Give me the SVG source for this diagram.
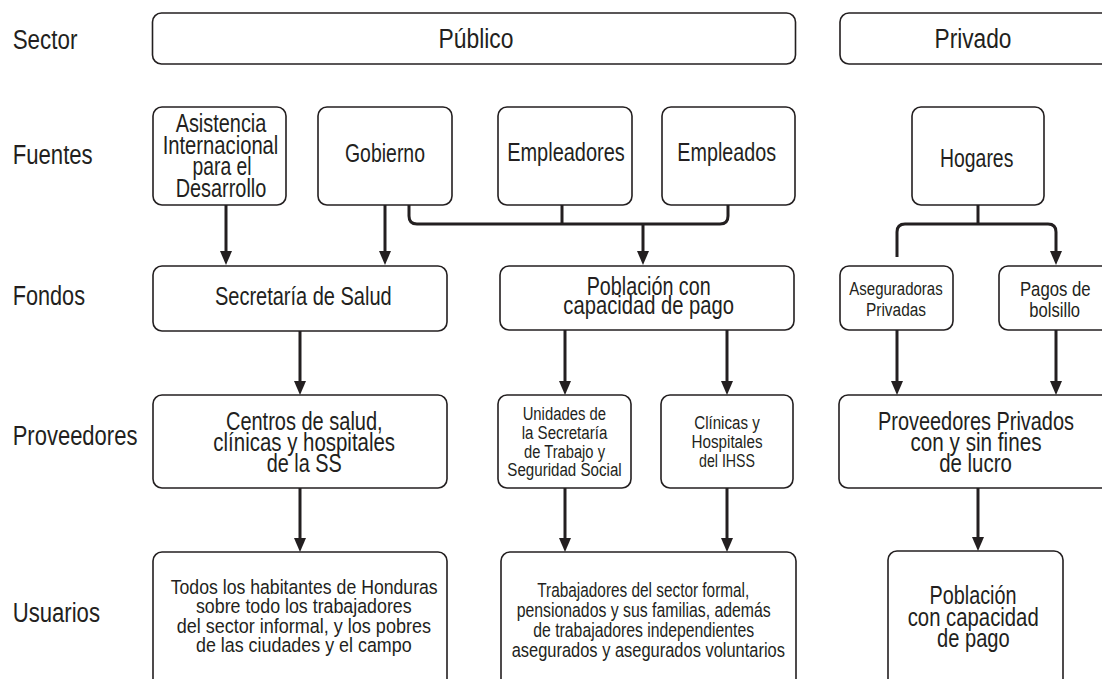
<svg xmlns="http://www.w3.org/2000/svg" width="1102" height="679" viewBox="0 0 1102 679">
<defs>
<marker id="ah" markerUnits="userSpaceOnUse" markerWidth="14" markerHeight="12" refX="6" refY="6" orient="auto"><path d="M0,0 L14,6 L0,12 Z" fill="#231f20"/></marker>
</defs>
<style>
.box{fill:#fff;stroke:#231f20;stroke-width:1.6}
.t{font-family:"Liberation Sans Narrow","Liberation Sans",Arial,sans-serif;fill:#231f20;text-anchor:middle}
.lab{font-family:"Liberation Sans Narrow","Liberation Sans",Arial,sans-serif;font-size:27px;fill:#231f20}
.s26{font-size:27px}.s24{font-size:25px}.s20{font-size:20.5px}.s18{font-size:18px}
.c{fill:none;stroke:#231f20;stroke-width:3}
.a{marker-end:url(#ah)}
</style>
<rect width="1102" height="679" fill="#fff"/>
<g id="row-labels">
<text class="lab" x="12.7" y="49.3" textLength="64.7" lengthAdjust="spacingAndGlyphs">Sector</text>
<text class="lab" x="12.7" y="164" textLength="80" lengthAdjust="spacingAndGlyphs">Fuentes</text>
<text class="lab" x="12.7" y="305" textLength="72.3" lengthAdjust="spacingAndGlyphs">Fondos</text>
<text class="lab" x="12.7" y="445" textLength="124.7" lengthAdjust="spacingAndGlyphs">Proveedores</text>
<text class="lab" x="12.7" y="621.7" textLength="87.3" lengthAdjust="spacingAndGlyphs">Usuarios</text>
</g>
<g id="connectors">
<path class="c a" d="M226,205 V257"/>
<path class="c a" d="M385,205 V257"/>
<path class="c" d="M409,205 V216 Q409,224 417,224 H720 Q728,224 728,216 V205"/>
<path class="c" d="M562,205 V224"/>
<path class="c a" d="M643,224 V257"/>
<path class="c" d="M978,205 V224"/>
<path class="c a" d="M897,257 V232 Q897,224 905,224 H1048 Q1056,224 1056,232 V257"/>
<path class="c a" d="M300,331 V387"/>
<path class="c a" d="M300,488 V544"/>
<path class="c a" d="M565,330 V387"/>
<path class="c a" d="M727,330 V387"/>
<path class="c a" d="M565,488 V544"/>
<path class="c a" d="M727,488 V544"/>
<path class="c a" d="M897,330 V387"/>
<path class="c a" d="M1056,330 V387"/>
<path class="c a" d="M978,488 V543"/>
</g>
<g id="publico"><rect class="box" x="152.5" y="13" width="643" height="51" rx="9"/>
<text class="t s26" x="476" y="48" textLength="75" lengthAdjust="spacingAndGlyphs">Público</text></g>
<g id="privado"><rect class="box" x="840" y="13" width="280" height="51" rx="9"/>
<text class="t s26" x="973" y="48" textLength="77" lengthAdjust="spacingAndGlyphs">Privado</text></g>
<g id="asistencia"><rect class="box" x="153" y="107" width="133" height="98" rx="9"/>
<text class="t s24" x="221" y="132.3" textLength="90.7" lengthAdjust="spacingAndGlyphs">Asistencia</text>
<text class="t s24" x="220.5" y="153.5" textLength="115.7" lengthAdjust="spacingAndGlyphs">Internacional</text>
<text class="t s24" x="222" y="175" textLength="59" lengthAdjust="spacingAndGlyphs">para el</text>
<text class="t s24" x="221" y="196.5" textLength="90.7" lengthAdjust="spacingAndGlyphs">Desarrollo</text></g>
<g id="gobierno"><rect class="box" x="318" y="107" width="134" height="98" rx="9"/>
<text class="t s24" x="385" y="161.7" textLength="80" lengthAdjust="spacingAndGlyphs">Gobierno</text></g>
<g id="empleadores"><rect class="box" x="498" y="107" width="134" height="98" rx="9"/>
<text class="t s24" x="566" y="160.7" textLength="117.7" lengthAdjust="spacingAndGlyphs">Empleadores</text></g>
<g id="empleados"><rect class="box" x="662" y="107" width="133" height="98" rx="9"/>
<text class="t s24" x="726.7" y="160.7" textLength="98.7" lengthAdjust="spacingAndGlyphs">Empleados</text></g>
<g id="hogares"><rect class="box" x="912" y="107" width="132" height="98" rx="9"/>
<text class="t s24" x="976.7" y="166.7" textLength="73.3" lengthAdjust="spacingAndGlyphs">Hogares</text></g>
<g id="secretaria"><rect class="box" x="153" y="266" width="294" height="65" rx="9"/>
<text class="t s24" x="303.3" y="305" textLength="176.7" lengthAdjust="spacingAndGlyphs">Secretaría de Salud</text></g>
<g id="poblacion-pago"><rect class="box" x="500" y="266" width="294" height="64" rx="9"/>
<text class="t s24" x="648.7" y="295" textLength="124" lengthAdjust="spacingAndGlyphs">Población con</text>
<text class="t s24" x="648.7" y="313.5" textLength="170.7" lengthAdjust="spacingAndGlyphs">capacidad de pago</text></g>
<g id="aseguradoras"><rect class="box" x="840" y="266" width="113" height="64" rx="9"/>
<text class="t s18" x="896" y="295" textLength="93.3" lengthAdjust="spacingAndGlyphs">Aseguradoras</text>
<text class="t s18" x="896" y="316" textLength="60" lengthAdjust="spacingAndGlyphs">Privadas</text></g>
<g id="pagos"><rect class="box" x="999" y="266" width="120" height="64" rx="9"/>
<text class="t s20" x="1055.3" y="296" textLength="70.7" lengthAdjust="spacingAndGlyphs">Pagos de</text>
<text class="t s20" x="1054.7" y="316.7" textLength="50.7" lengthAdjust="spacingAndGlyphs">bolsillo</text></g>
<g id="centros"><rect class="box" x="153" y="395" width="294" height="93" rx="9"/>
<text class="t s24" x="304.3" y="430" textLength="156.7" lengthAdjust="spacingAndGlyphs">Centros de salud,</text>
<text class="t s24" x="304.2" y="451" textLength="181.7" lengthAdjust="spacingAndGlyphs">clínicas y hospitales</text>
<text class="t s24" x="304.2" y="472" textLength="75" lengthAdjust="spacingAndGlyphs">de la SS</text></g>
<g id="unidades"><rect class="box" x="498" y="395" width="133" height="93" rx="9"/>
<text class="t s18" x="564.3" y="420" textLength="83.3" lengthAdjust="spacingAndGlyphs">Unidades de</text>
<text class="t s18" x="564.5" y="439" textLength="85.7" lengthAdjust="spacingAndGlyphs">la Secretaría</text>
<text class="t s18" x="564.5" y="457.5" textLength="81" lengthAdjust="spacingAndGlyphs">de Trabajo y</text>
<text class="t s18" x="564.5" y="476" textLength="114.3" lengthAdjust="spacingAndGlyphs">Seguridad Social</text></g>
<g id="clinicas"><rect class="box" x="661" y="395" width="132" height="93" rx="9"/>
<text class="t s18" x="727" y="429.3" textLength="65.5" lengthAdjust="spacingAndGlyphs">Clínicas y</text>
<text class="t s18" x="727" y="448" textLength="71" lengthAdjust="spacingAndGlyphs">Hospitales</text>
<text class="t s18" x="727" y="466.7" textLength="56" lengthAdjust="spacingAndGlyphs">del IHSS</text></g>
<g id="proveedores-privados"><rect class="box" x="839" y="395" width="280" height="93" rx="9"/>
<text class="t s24" x="976" y="430" textLength="196" lengthAdjust="spacingAndGlyphs">Proveedores Privados</text>
<text class="t s24" x="976" y="451" textLength="131" lengthAdjust="spacingAndGlyphs">con y sin fines</text>
<text class="t s24" x="975.5" y="472" textLength="72.6" lengthAdjust="spacingAndGlyphs">de lucro</text></g>
<g id="todos"><rect class="box" x="153" y="552" width="294" height="140" rx="9"/>
<text class="t s20" x="304.2" y="593.5" textLength="267" lengthAdjust="spacingAndGlyphs">Todos los habitantes de Honduras</text>
<text class="t s20" x="303.8" y="613" textLength="215.7" lengthAdjust="spacingAndGlyphs">sobre todo los trabajadores</text>
<text class="t s20" x="303.8" y="632.5" textLength="254.3" lengthAdjust="spacingAndGlyphs">del sector informal, y los pobres</text>
<text class="t s20" x="303.8" y="652" textLength="215.7" lengthAdjust="spacingAndGlyphs">de las ciudades y el campo</text></g>
<g id="trabajadores"><rect class="box" x="501" y="552" width="295" height="140" rx="9"/>
<text class="t s20" x="643.3" y="596.5" textLength="212" lengthAdjust="spacingAndGlyphs">Trabajadores del sector formal,</text>
<text class="t s20" x="643.7" y="616.5" textLength="254" lengthAdjust="spacingAndGlyphs">pensionados y sus familias, además</text>
<text class="t s20" x="643.7" y="637" textLength="220.7" lengthAdjust="spacingAndGlyphs">de trabajadores independientes</text>
<text class="t s20" x="648.3" y="657" textLength="273.3" lengthAdjust="spacingAndGlyphs">asegurados y asegurados voluntarios</text></g>
<g id="poblacion-privada"><rect class="box" x="888" y="551" width="175" height="141" rx="9"/>
<text class="t s24" x="973" y="604" textLength="87" lengthAdjust="spacingAndGlyphs">Población</text>
<text class="t s24" x="973.2" y="626" textLength="131" lengthAdjust="spacingAndGlyphs">con capacidad</text>
<text class="t s24" x="973.4" y="646.7" textLength="72.6" lengthAdjust="spacingAndGlyphs">de pago</text></g>
</svg>
